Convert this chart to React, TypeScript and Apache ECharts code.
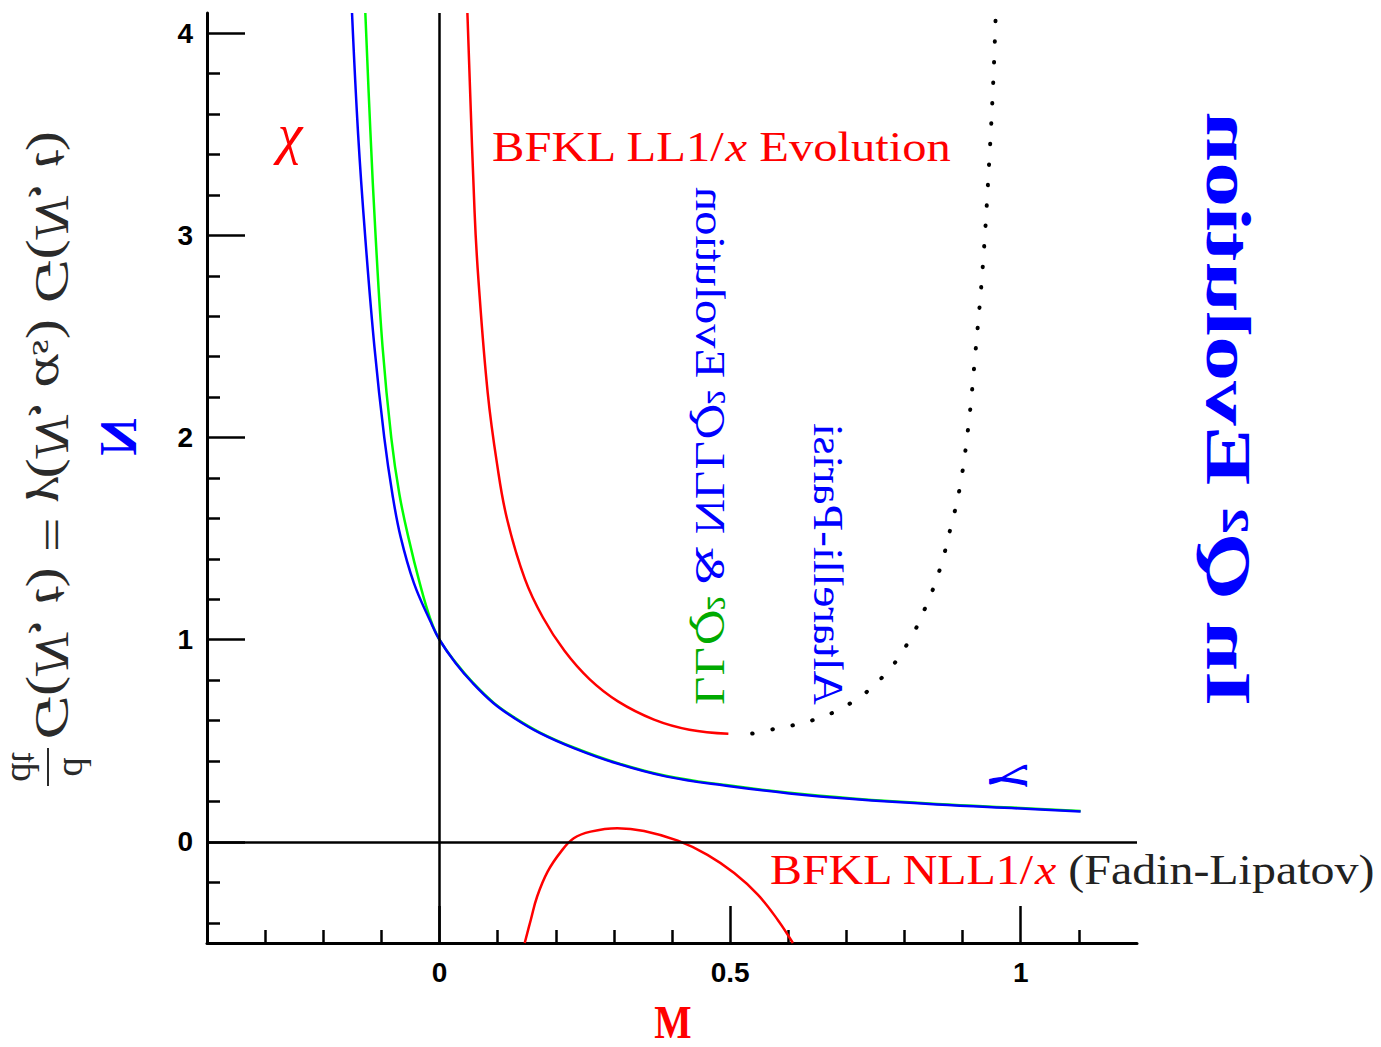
import React, { useEffect, useRef } from "react";
import * as echarts from "echarts";

// ---- data ----
const blueM = [-0.1505, -0.14, -0.128, -0.112, -0.095, -0.081, -0.067, -0.044, -0.0155, 0, 0.0276, 0.057, 0.093, 0.129, 0.173, 0.231, 0.303, 0.391, 0.493, 0.602, 0.711, 0.856, 1.0, 1.103];
const blueN = [4.1, 3.5, 3.0, 2.45, 2.0, 1.72, 1.51, 1.28, 1.09, 1.0, 0.885, 0.786, 0.686, 0.612, 0.538, 0.464, 0.39, 0.323, 0.278, 0.24, 0.212, 0.185, 0.165, 0.15];

const greenM = [-0.1276, -0.119, -0.11, -0.098, -0.083, -0.069, -0.053, -0.034, -0.0155, 0, 0.0276, 0.057, 0.093, 0.129, 0.173, 0.231, 0.303, 0.391, 0.493, 0.602, 0.711, 0.856, 1.0, 1.103];
const greenN = [4.1, 3.52, 3.0, 2.45, 2.0, 1.72, 1.5, 1.28, 1.1, 1.0, 0.888, 0.789, 0.689, 0.615, 0.541, 0.467, 0.393, 0.326, 0.281, 0.243, 0.215, 0.188, 0.168, 0.153];

const llM = [0.048, 0.0603, 0.067, 0.083, 0.099, 0.116, 0.147, 0.178, 0.215, 0.258, 0.307, 0.369, 0.43, 0.497];
const llN = [4.1, 3.12, 2.78, 2.22, 1.87, 1.6, 1.3, 1.11, 0.945, 0.805, 0.695, 0.605, 0.555, 0.535];

const apM = [0.538, 0.578, 0.643, 0.707, 0.762, 0.805, 0.836, 0.861, 0.879, 0.895, 0.91, 0.922, 0.935, 0.946, 0.953, 0.957];
const apN = [0.536, 0.56, 0.603, 0.686, 0.815, 0.98, 1.16, 1.35, 1.55, 1.75, 2.06, 2.42, 2.86, 3.38, 3.78, 4.1];

const nllM = [0.1466, 0.157, 0.168, 0.186, 0.209, 0.231, 0.26, 0.306, 0.352, 0.41, 0.461, 0.507, 0.548, 0.582, 0.608];
const nllN = [-0.5, -0.386, -0.27, -0.147, -0.048, 0.018, 0.051, 0.068, 0.054, 0.006, -0.064, -0.154, -0.262, -0.386, -0.5];

const xMinorTicks = [-0.3, -0.2, -0.1, 0.1, 0.2, 0.3, 0.4, 0.6, 0.7, 0.8, 0.9, 1.1];
const xMajorTicks = [0, 0.5, 1];
const yMinorTicks = [-0.4, -0.2, 0.2, 0.4, 0.6, 0.8, 1.2, 1.4, 1.6, 1.8, 2.2, 2.4, 2.6, 2.8, 3.2, 3.4, 3.6, 3.8];
const yMajorTicks = [0, 1, 2, 3, 4];

const SERIF = "'Liberation Serif', 'Times New Roman', serif";
const SANS = "'Liberation Sans Narrow', 'Liberation Sans', Arial, sans-serif";
const RED = "#ff0000";
const BLUE = "#0000ff";
const GREEN_TXT = "#00aa00";
const INK = "#2a2a2a";

function pairs(xs: number[], ys: number[]) {
  return xs.map((x, i) => [x, ys[i]]);
}

// mirrored / rotated group (reflection across the diagonal)
function flipGroup(x: number, y: number, children: any[]) {
  return { type: "group", x, y, rotation: Math.PI / 2, scaleY: -1, children };
}

function txt(x: number, y: number, style: any, scaleX = 1) {
  return {
    type: "text",
    x,
    y,
    scaleX,
    silent: true,
    style: { align: "left", verticalAlign: "middle", ...style },
  };
}

export default function App() {
  const ref = useRef<HTMLDivElement>(null);
  useEffect(() => {
    if (!ref.current) return;
    const chart = echarts.init(ref.current, undefined, { renderer: "svg" });
    const tickLine = { color: "#000", width: 2.5 };
    const axisLabelStyle = { fontSize: 28, fontWeight: "bold", color: "#000", fontFamily: SANS };

    const lineBase = { type: "line", showSymbol: false, symbol: "none", smooth: 0.4, clip: true, silent: true };

    const fsMain = 48;
    const leftLabelRich = {
      i: { fontSize: fsMain, fontStyle: "italic", fontFamily: SERIF, fill: INK },
      r: { fontSize: fsMain, fontFamily: SERIF, fill: INK },
      s: { fontSize: 32, fontStyle: "italic", fontFamily: SERIF, fill: INK, verticalAlign: "bottom" },
    };

    const option: any = {
      animation: false,
      grid: { left: 207, top: 13, width: 930, height: 930, containLabel: false },
      xAxis: [
        {
          type: "value", min: -0.4, max: 1.2, position: "bottom",
          axisLine: { show: true, onZero: false, lineStyle: { color: "#000", width: 3 } },
          axisTick: { show: true, inside: true, length: 13, customValues: xMinorTicks, lineStyle: tickLine },
          axisLabel: { show: true, customValues: xMajorTicks, margin: 15, ...axisLabelStyle },
          splitLine: { show: false },
        },
        {
          type: "value", min: -0.4, max: 1.2, position: "bottom",
          axisLine: { show: false, onZero: false },
          axisTick: { show: true, inside: true, length: 37, customValues: xMajorTicks, lineStyle: tickLine },
          axisLabel: { show: false },
          splitLine: { show: false },
        },
      ],
      yAxis: [
        {
          type: "value", min: -0.5, max: 4.1, position: "left",
          axisLine: { show: true, onZero: false, lineStyle: { color: "#000", width: 3 } },
          axisTick: { show: true, inside: true, length: 13, customValues: yMinorTicks, lineStyle: tickLine },
          axisLabel: { show: true, customValues: yMajorTicks, margin: 14, ...axisLabelStyle },
          splitLine: { show: false },
        },
        {
          type: "value", min: -0.5, max: 4.1, position: "left",
          axisLine: { show: false, onZero: false },
          axisTick: { show: true, inside: true, length: 38, customValues: yMajorTicks, lineStyle: tickLine },
          axisLabel: { show: false },
          splitLine: { show: false },
        },
      ],
      series: [
        {
          ...lineBase, z: 2, data: pairs(greenM, greenN),
          lineStyle: { color: "#00ff00", width: 2.5 },
          markLine: {
            silent: true, symbol: ["none", "none"], label: { show: false },
            lineStyle: { color: "#000", width: 2.5, type: "solid" },
            emphasis: { disabled: true },
            data: [{ yAxis: 0 }, { xAxis: 0 }],
          },
        },
        { ...lineBase, z: 4, data: pairs(blueM, blueN), lineStyle: { color: BLUE, width: 2.5 } },
        { ...lineBase, z: 4, data: pairs(llM, llN), lineStyle: { color: RED, width: 2.5 } },
        { ...lineBase, z: 4, data: pairs(apM, apN), lineStyle: { color: "#000", width: 4, type: [0.5, 20], cap: "round" } },
        { ...lineBase, z: 4, data: pairs(nllM, nllN), lineStyle: { color: RED, width: 2.5 } },
      ],
      graphic: [
        // red chi
        txt(290, 134, { text: "χ", fontSize: 56, fontStyle: "italic", fontFamily: SERIF, fill: RED, align: "center" }),
        // BFKL LL
        txt(492, 146, {
          text: "{r|BFKL LL1/}{i|x}{r| Evolution}",
          rich: {
            r: { fontSize: 43, fontFamily: SERIF, fill: RED },
            i: { fontSize: 43, fontFamily: SERIF, fontStyle: "italic", fill: RED },
          },
        }, 1.13),
        // BFKL NLL
        txt(770, 869, {
          text: "{r|BFKL NLL1/}{i|x}{k| (Fadin-Lipatov)}",
          rich: {
            r: { fontSize: 43, fontFamily: SERIF, fill: RED },
            i: { fontSize: 43, fontFamily: SERIF, fontStyle: "italic", fill: RED },
            k: { fontSize: 43, fontFamily: SERIF, fill: "#222" },
          },
        }, 1.115),
        // x axis name M
        txt(673, 1022, { text: "M", fontSize: 46, fontWeight: "bold", fontFamily: SERIF, fill: RED, align: "center" }, 0.86),
        // mirrored texts
        flipGroup(710, 705, [
          txt(0, 0, {
            text: "{g|LL}{gi|Q}{g|²}{b| & NLL}{bi|Q}{b|² Evolution}",
            rich: {
              g: { fontSize: 42, fontFamily: SERIF, fill: GREEN_TXT },
              gi: { fontSize: 42, fontFamily: SERIF, fontStyle: "italic", fill: GREEN_TXT },
              b: { fontSize: 42, fontFamily: SERIF, fill: BLUE },
              bi: { fontSize: 42, fontFamily: SERIF, fontStyle: "italic", fill: BLUE },
            },
          }, 1.155),
        ]),
        flipGroup(828, 705, [
          txt(0, 0, { text: "Altarelli-Parisi", fontSize: 42, fontFamily: SERIF, fill: BLUE }, 1.13),
        ]),
        flipGroup(1228, 706, [
          txt(0, 0, {
            text: "{b|In }{bi|Q}{b|² Evolution}",
            rich: {
              b: { fontSize: 63, fontWeight: "bold", fontFamily: SERIF, fill: BLUE },
              bi: { fontSize: 63, fontWeight: "bold", fontStyle: "italic", fontFamily: SERIF, fill: BLUE },
            },
          }, 1.42),
        ]),
        flipGroup(118, 437, [
          txt(0, 0, { text: "N", fontSize: 52, fontWeight: "bold", fontFamily: SERIF, fill: BLUE, align: "center" }),
        ]),
        flipGroup(1020, 777, [
          txt(0, 0, { text: "γ", fontSize: 56, fontStyle: "italic", fontFamily: SERIF, fill: BLUE, align: "center" }),
        ]),
        // left axis label
        flipGroup(52, 786, [
          txt(19, -6, { text: "d", fontSize: 38, fontFamily: SERIF, fill: INK, align: "center", verticalAlign: "bottom" }),
          { type: "line", silent: true, shape: { x1: 0, y1: 4, x2: 38, y2: 4 }, style: { stroke: INK, lineWidth: 2 } },
          txt(19, 8, { text: "dt", fontSize: 38, fontFamily: SERIF, fill: INK, align: "center", verticalAlign: "top" }),
          txt(46, 0, {
            text: "{i|G}{r|(}{i|N}{r|, }{i|t}{r|) = }{i|γ}{r|(}{i|N}{r|, }{i|α}{s|s}{r|) }{i|G}{r|(}{i|N}{r|, }{i|t}{r|)}",
            rich: leftLabelRich,
          }, 1.27),
        ]),
      ],
    };
    chart.setOption(option);
    return () => chart.dispose();
  }, []);
  return (
    <div
      ref={ref}
      style={{ position: "absolute", left: 0, top: 0, width: 1381, height: 1047, background: "#fff" }}
    />
  );
}
